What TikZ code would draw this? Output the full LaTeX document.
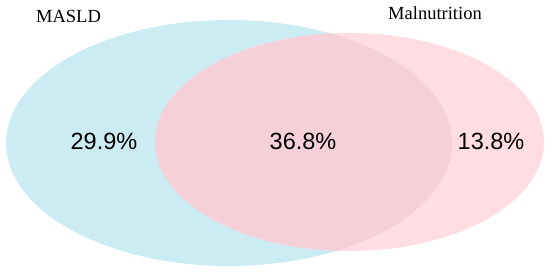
\documentclass[tikz,border=0pt]{standalone}
\usepackage{fontspec}
\setmainfont{Liberation Serif}
\newfontfamily\arialfont{Liberation Sans}
\definecolor{bluefill}{HTML}{CBECF2}
\definecolor{pinkfill}{HTML}{FFDDE2}
\definecolor{overfill}{HTML}{F5D0D9}
\begin{document}
\begin{tikzpicture}[x=1pt,y=-1pt,
  setlabel/.style={font=\fontsize{18.5}{20}\selectfont, anchor=base, inner sep=0pt},
  pct/.style={font=\arialfont\fontsize{23.5}{26}\selectfont, anchor=base, inner sep=0pt}]
\useasboundingbox (0,0) rectangle (550,274);
\fill[bluefill] (229,143) ellipse [x radius=223, y radius=123];
\fill[pinkfill] (349.5,142) ellipse [x radius=194.5, y radius=109];
\begin{scope}
\clip (229,143) ellipse [x radius=223, y radius=123];
\fill[overfill] (349.5,142) ellipse [x radius=194.5, y radius=109];
\end{scope}
\node[setlabel] (masld) at (68.5,22.7) {MASLD};
\node[setlabel] (maln) at (435,19) {Malnutrition};
\node[pct] (a) at (104,149) {29.9\%};
\node[pct] (b) at (303,149) {36.8\%};
\node[pct] (c) at (491,149) {13.8\%};
\end{tikzpicture}
\end{document}
